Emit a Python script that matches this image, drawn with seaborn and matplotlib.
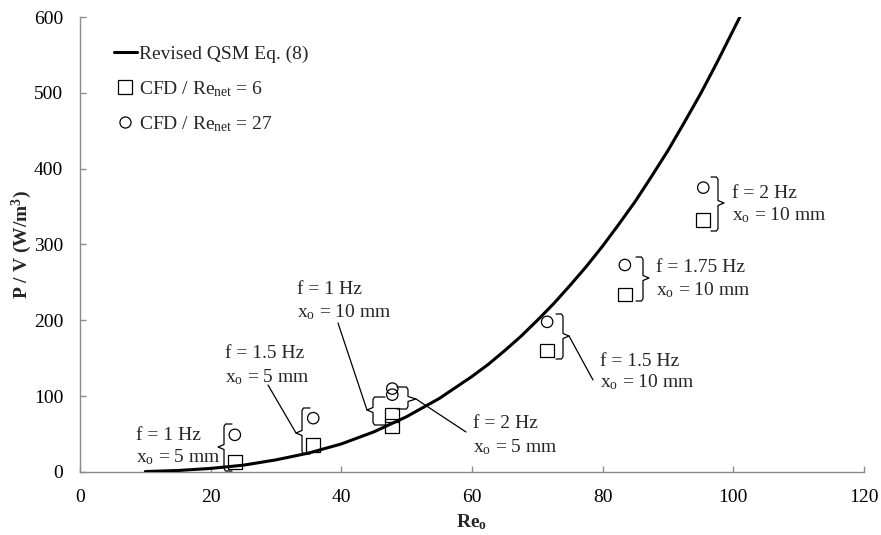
import numpy as np
import pandas as pd
import matplotlib
matplotlib.use("Agg")
import matplotlib.pyplot as plt
import matplotlib.transforms as mtransforms
from matplotlib.lines import Line2D
import seaborn as sns

# ---------------- data ----------------
qsm_re = [10, 15, 20, 25, 30, 35, 40, 45, 50, 55, 60, 62.5, 65, 67.5, 70, 72.5, 75,
          77.5, 80, 82.5, 85, 87.5, 90, 92.5, 95, 97.5, 101]
qsm_pv = [0.6, 2, 4.7, 9, 16, 25, 37, 53, 73, 97, 126, 142, 160, 179, 200, 222, 246,
          271, 298, 327, 357, 390, 424, 461, 499, 540, 600]

cfd_re = [23.7, 35.7, 47.8, 47.8, 71.5, 83.4, 95.4]
cfd6_pv = [13, 36, 61, 75, 160, 234, 332]
cfd27_pv = [49, 71, 102, 110, 198, 273, 375]

x_ticks = [0, 20, 40, 60, 80, 100, 120]
y_ticks = [0, 100, 200, 300, 400, 500, 600]

ann_f = ["f = 1 Hz", "f = 1.5 Hz", "f = 1 Hz", "f = 2 Hz", "f = 1.5 Hz", "f = 1.75 Hz", "f = 2 Hz"]
ann_x = ["5 mm", "5 mm", "10 mm", "5 mm", "10 mm", "10 mm", "10 mm"]

legend_labels = ["Revised QSM Eq. (8)", r"CFD / Re$_{\rm net}$ = 6", r"CFD / Re$_{\rm net}$ = 27"]

# ---------------- style ----------------
sns.set_style("white")
plt.rcParams["font.family"] = ["Liberation Serif", "DejaVu Serif"]
plt.rcParams["mathtext.fontset"] = "custom"
plt.rcParams["mathtext.rm"] = "Liberation Serif"
plt.rcParams["mathtext.it"] = "Liberation Serif:italic"
plt.rcParams["mathtext.bf"] = "Liberation Serif:bold"

FS = 14
W, H = 881, 535
fig = plt.figure(figsize=(W / 100, H / 100), dpi=100)
ax = fig.add_axes([80 / W, 1 - 472 / H, (864 - 80) / W, (472 - 17) / H])

df_qsm = pd.DataFrame({"Re": qsm_re, "PV": qsm_pv})
df6 = pd.DataFrame({"Re": cfd_re, "PV": cfd6_pv})
df27 = pd.DataFrame({"Re": cfd_re, "PV": cfd27_pv})

sns.lineplot(data=df_qsm, x="Re", y="PV", ax=ax, color="black", lw=2.2, zorder=3)
sns.scatterplot(data=df6, x="Re", y="PV", ax=ax, marker="s", s=9.8 ** 2,
                facecolor="none", edgecolor="black", linewidth=0.9, zorder=4)
sns.scatterplot(data=df27, x="Re", y="PV", ax=ax, marker="o", s=8.2 ** 2,
                facecolor="none", edgecolor="black", linewidth=0.9, zorder=4)

ax.set_xlim(0, 120)
ax.set_ylim(0, 600)
ax.set_xticks(x_ticks)
ax.set_yticks(y_ticks)
ax.set_xticklabels([str(v) for v in x_ticks])
ax.set_yticklabels([str(v) for v in y_ticks])
spine_col = "#8c8c8c"
for s in ["top", "right"]:
    ax.spines[s].set_visible(False)
for s in ["left", "bottom"]:
    ax.spines[s].set_color(spine_col)
    ax.spines[s].set_linewidth(1.0)
ax.tick_params(axis="both", direction="in", length=4, width=1.0, color=spine_col,
               labelsize=FS, labelcolor="black", pad=12)
ax.tick_params(axis="x", bottom=True)
ax.tick_params(axis="y", left=True)

ax.set_xlabel(r"Re$_{\mathbf{o}}$", fontsize=FS, fontweight="bold", labelpad=5)
ax.set_ylabel(r"P / V (W/m$^{\mathbf{3}}$)", fontsize=FS, fontweight="bold", labelpad=0)

# legend
handles = [
    Line2D([], [], color="black", lw=2.2),
    Line2D([], [], color="black", marker="s", ls="none", markersize=9.5,
           markerfacecolor="none", markeredgewidth=0.9),
    Line2D([], [], color="black", marker="o", ls="none", markersize=8,
           markerfacecolor="none", markeredgewidth=0.9),
]
ax.legend(handles, legend_labels, loc="upper left", bbox_to_anchor=(0.043, 0.937),
          frameon=False, fontsize=FS, handlelength=1.2, handletextpad=0.1,
          labelspacing=0.8, borderpad=0, borderaxespad=0)

# ---------------- annotations (image pixel space, y down) ----------------
pix = mtransforms.Affine2D().scale(1 / W, -1 / H).translate(0, 1) + fig.transFigure


def brace(xv, top, bot, side, tipy, arm=8, tip=6):
    """side=-1: left brace '{' ; side=+1: right brace '}'"""
    xa = xv - side * arm
    c = 2.5
    pts = [(xa, top), (xv - side * 1.5, top), (xv, top + c),
           (xv, tipy - c), (xv + side * tip, tipy), (xv, tipy + c),
           (xv, bot - c), (xv - side * 1.5, bot), (xa, bot)]
    xs, ys = zip(*pts)
    fig.add_artist(Line2D(xs, ys, transform=pix, color="black", lw=0.9))
    return xv + side * tip, tipy


def leader(p0, p1):
    fig.add_artist(Line2D([p0[0], p1[0]], [p0[1], p1[1]], transform=pix,
                          color="black", lw=0.9))


def label(i, x, y, dy=22):
    fig.text(x, y, ann_f[i], transform=pix, fontsize=FS, ha="left", va="center")
    fig.text(x, y + dy, r"x$_{\rm o}$ = " + ann_x[i], transform=pix, fontsize=FS,
             ha="left", va="center")


# A: Re ~24
brace(224, 424, 471, -1, 447, arm=8)
label(0, 136, 435)
# B: Re ~36
t = brace(302, 408, 454, -1, 433, arm=8)
leader(t, (268, 385))
label(1, 225, 353, dy=24)
# C: Re ~48 left
t = brace(373, 397, 425, -1, 410, arm=12)
leader(t, (338, 323))
label(2, 297, 290)
# D: Re ~48 right
t = brace(408, 387, 409, 1, 399, arm=11, tip=8)
leader(t, (466, 432))
label(3, 473, 424, dy=23)
# E: Re ~71.5
t = brace(563, 314, 359, 1, 336, arm=7)
leader(t, (593, 380))
label(4, 600, 361, dy=21)
# F: Re ~83.4
brace(643, 257, 301, 1, 278, arm=7)
label(5, 656, 268)
# G: Re ~95.4
brace(718, 177, 231, 1, 203, arm=7)
label(6, 732, 193)

fig.savefig("out.png", dpi=100)
